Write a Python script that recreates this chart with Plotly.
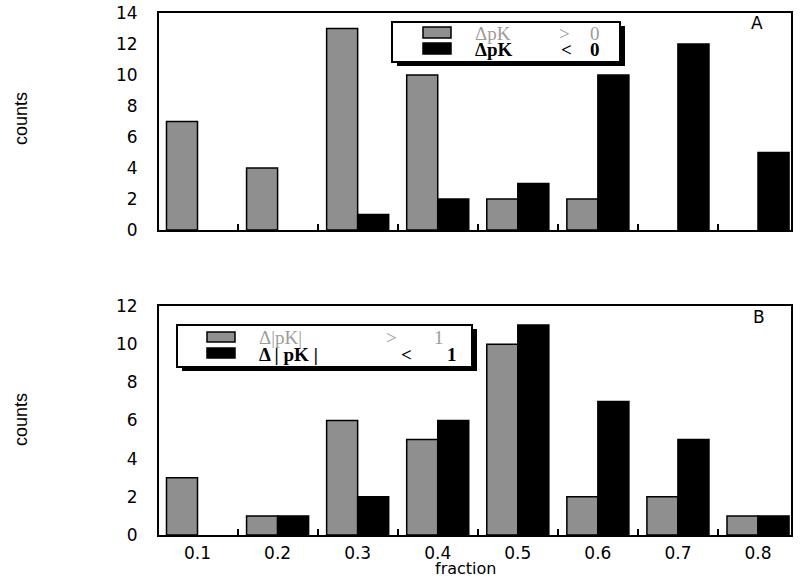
import plotly.graph_objects as go

# bin centres (fraction)
fraction = [0.1, 0.2, 0.3, 0.4, 0.5, 0.6, 0.7, 0.8]
tick_labels = ["0.1", "0.2", "0.3", "0.4", "0.5", "0.6", "0.7", "0.8"]

# panel A counts
a_pos = [7, 4, 13, 10, 2, 2, 0, 0]
a_neg = [0, 0, 1, 2, 3, 10, 12, 5]

# panel B counts
b_gt1 = [3, 1, 6, 5, 10, 2, 2, 1]
b_lt1 = [0, 1, 2, 6, 11, 7, 5, 1]

GRAY = "#8f8f8f"
LGRAY = "#9c9c9c"
SANS = "DejaVu Sans, Liberation Sans"
SERIF = "Liberation Serif, Times New Roman"
TICK_FONT = dict(family=SANS, size=17, color="black")

W, H, L, R, T, B = 800, 578, 159, 9, 13, 43
pw, ph = W - L - R, H - T - B


def px(x):
    return (x - L) / pw


def py(y):
    return (H - B - y) / ph


def outline(vals):
    # no outline for empty bins so they don't leave a line on the axis
    return [1.5 if v > 0 else 0 for v in vals]


fig = go.Figure()
fig.add_trace(go.Bar(x=fraction, y=a_pos, name="ΔpK > 0", xaxis="x", yaxis="y",
                     marker=dict(color=GRAY, line=dict(color="black", width=outline(a_pos)))))
fig.add_trace(go.Bar(x=fraction, y=a_neg, name="ΔpK < 0", xaxis="x", yaxis="y",
                     marker=dict(color="black", line=dict(color="black", width=outline(a_neg)))))
fig.add_trace(go.Bar(x=fraction, y=b_gt1, name="Δ|pK| > 1", xaxis="x2", yaxis="y2",
                     marker=dict(color=GRAY, line=dict(color="black", width=outline(b_gt1)))))
fig.add_trace(go.Bar(x=fraction, y=b_lt1, name="Δ|pK| < 1", xaxis="x2", yaxis="y2",
                     marker=dict(color="black", line=dict(color="black", width=outline(b_lt1)))))

xcommon = dict(range=[0.0519, 0.8412], tickvals=fraction, ticktext=tick_labels, ticks="",
               showline=True, linecolor="black", linewidth=2, mirror=True, automargin=False,
               minor=dict(tick0=0.15, dtick=0.1, ticks="inside", ticklen=6,
                          tickcolor="black", tickwidth=2),
               showgrid=False, zeroline=False, tickfont=TICK_FONT, ticklabelstandoff=2)
# left axis: line and labels only; the inside ticks sit on the right edge
ycommon = dict(showline=True, linecolor="black", linewidth=2, mirror=True, ticks="",
               showgrid=False, zeroline=False, dtick=2, tickfont=TICK_FONT,
               automargin=False, ticklabelstandoff=16)
yright = dict(side="right", showline=False, ticks="inside", ticklen=6, tickwidth=2,
              tickcolor="black", showticklabels=False, showgrid=False, zeroline=False,
              dtick=2, automargin=False)

# legend frames + keys (drawn by hand to match the boxed legends with drop shadow)
shapes = []
annotations = []


def legend_box(x0, y0, x1, y1, rows):
    shapes.append(dict(type="rect", xref="paper", yref="paper", x0=px(x0 + 5), x1=px(x1 + 5),
                       y0=py(y1 + 4), y1=py(y0 + 4), fillcolor="black", line=dict(width=0)))
    shapes.append(dict(type="rect", xref="paper", yref="paper", x0=px(x0), x1=px(x1),
                       y0=py(y1), y1=py(y0), fillcolor="white", line=dict(color="black", width=2)))
    for (kx0, kx1, ky0, ky1, fill, parts, color) in rows:
        shapes.append(dict(type="rect", xref="paper", yref="paper", x0=px(kx0), x1=px(kx1),
                           y0=py(ky1), y1=py(ky0), fillcolor=fill,
                           line=dict(color="black", width=1.5)))
        yc = (ky0 + ky1) / 2
        for (tx, txt, bold) in parts:
            annotations.append(dict(text="<b>%s</b>" % txt if bold else txt, x=px(tx), y=py(yc + 1),
                                    xref="paper", yref="paper", showarrow=False,
                                    xanchor="left", yanchor="middle",
                                    font=dict(family=SERIF, size=19, color=color)))


legend_box(392, 22, 620, 62, [
    (423, 451, 27, 38, GRAY, [(473, "ΔpK", False), (557, "&gt;", False), (588, "0", False)], LGRAY),
    (423, 451, 43, 54, "black", [(473, "ΔpK", True), (559, "&lt;", True), (588, "0", True)], "black"),
])
legend_box(177, 325, 472, 367, [
    (207, 235, 332, 342, GRAY, [(257, "Δ|pK|", False), (384, "&gt;", False), (432, "1", False)], LGRAY),
    (207, 235, 348, 358, "black", [(257, "Δ | pK |", True), (399, "&lt;", True), (445, "1", True)], "black"),
])

annotations += [
    dict(text="A", x=px(757), y=py(23), xref="paper", yref="paper", showarrow=False,
         xanchor="center", yanchor="middle", font=dict(family=SANS, size=17, color="black")),
    dict(text="B", x=px(759), y=py(317), xref="paper", yref="paper", showarrow=False,
         xanchor="center", yanchor="middle", font=dict(family=SANS, size=17, color="black")),
    dict(text="counts", x=px(21), y=py(119), xref="paper", yref="paper", showarrow=False,
         textangle=-90, xanchor="center", yanchor="middle",
         font=dict(family="Liberation Sans Narrow, Liberation Sans", size=18, color="black")),
    dict(text="counts", x=px(21), y=py(420), xref="paper", yref="paper", showarrow=False,
         textangle=-90, xanchor="center", yanchor="middle",
         font=dict(family="Liberation Sans Narrow, Liberation Sans", size=18, color="black")),
    dict(text="fraction", x=px(465), y=py(568), xref="paper", yref="paper", showarrow=False,
         xanchor="center", yanchor="middle", font=dict(family=SANS, size=16, color="black")),
]

fig.update_layout(
    width=W, height=H,
    margin=dict(l=L, r=R, t=T, b=B),
    plot_bgcolor="white", paper_bgcolor="white",
    barmode="group", bargap=0.225, bargroupgap=0, showlegend=False,
    xaxis=dict(domain=[0, 1], anchor="y", showticklabels=False, **xcommon),
    yaxis=dict(domain=[py(230), 1], anchor="x", range=[0, 14], **ycommon),
    yaxis3=dict(overlaying="y", anchor="x", range=[0, 14], **yright),
    xaxis2=dict(domain=[0, 1], anchor="y2", **xcommon),
    yaxis2=dict(domain=[0, py(306)], anchor="x2", range=[0, 12], **ycommon),
    yaxis4=dict(overlaying="y2", anchor="x2", range=[0, 12], **yright),
    shapes=shapes,
    annotations=annotations,
)

# the page's default body margin would shift the 800x578 figure; remove it
fig.write_html("out.html", config={"displayModeBar": False},
               post_script="document.body.style.margin='0';")
